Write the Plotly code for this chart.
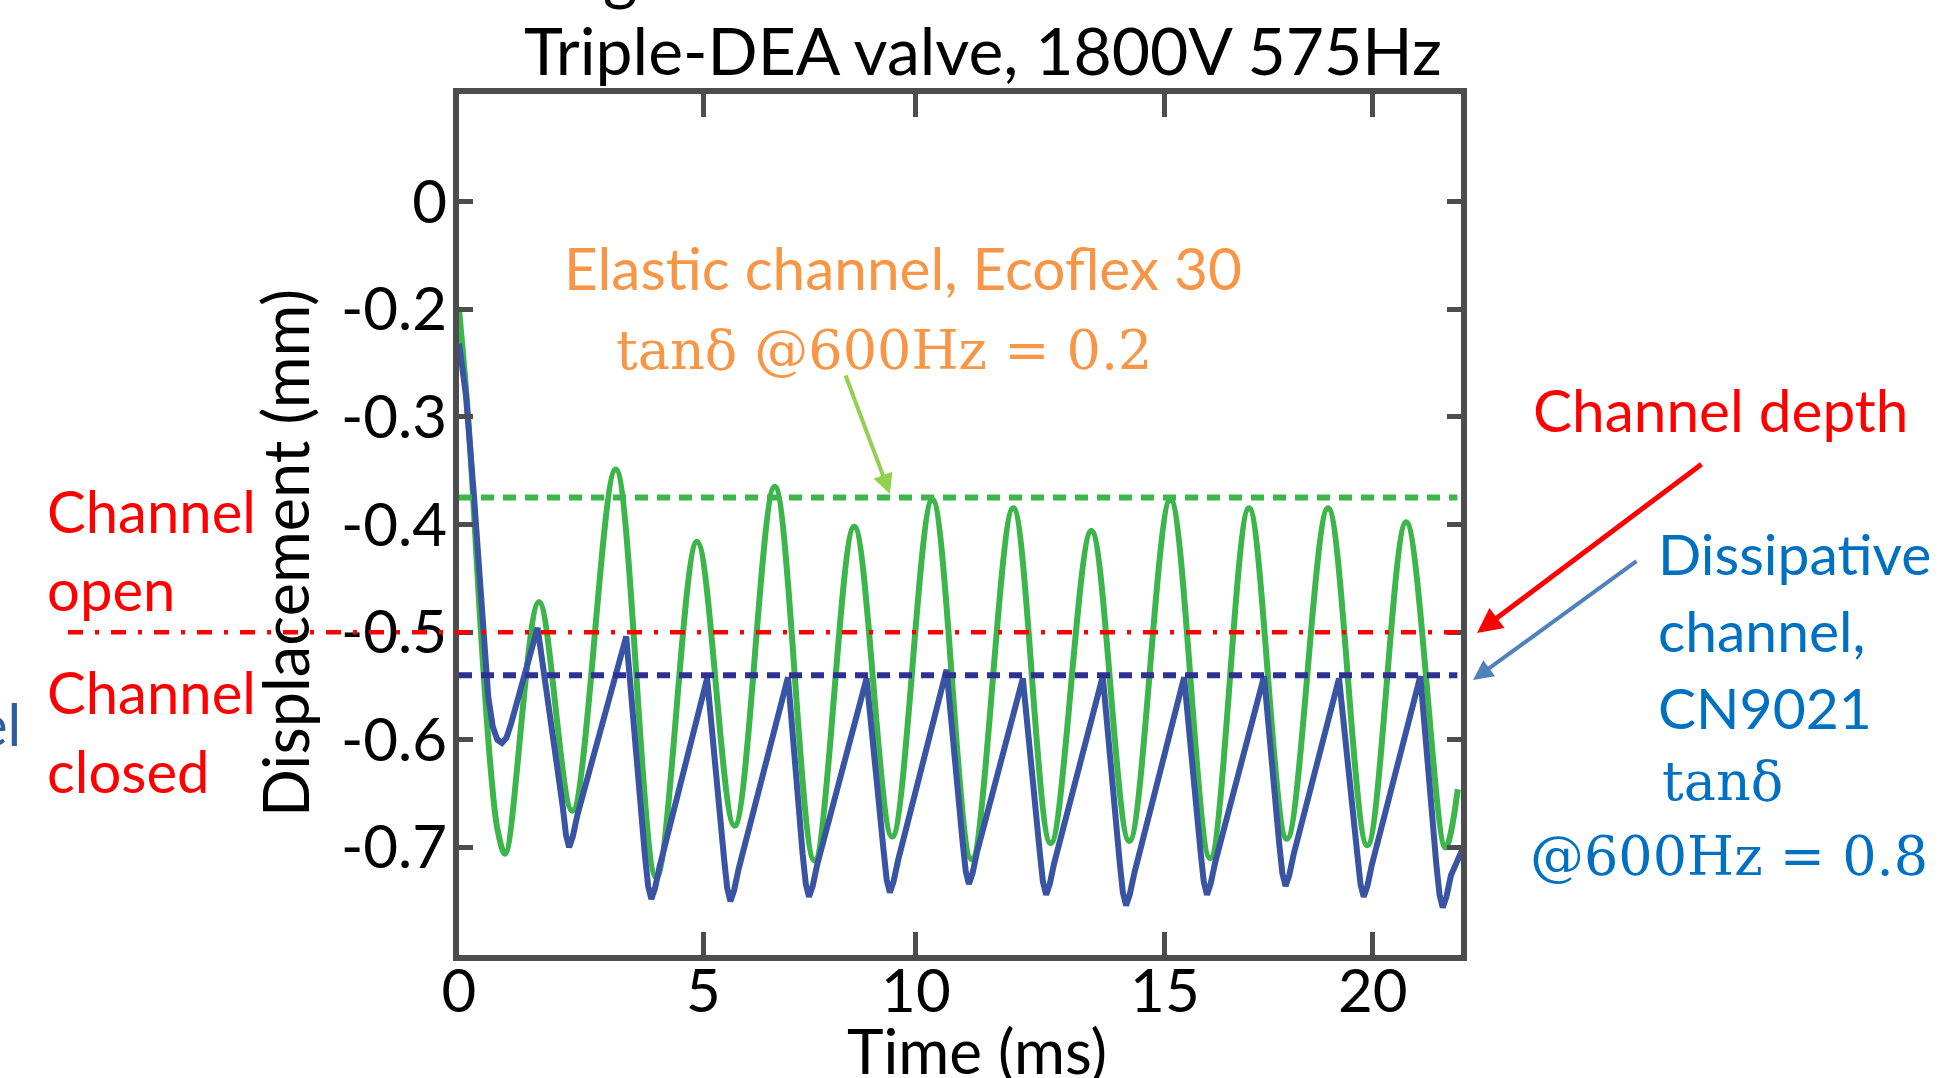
import plotly.graph_objects as go

# ---------------- data ----------------
# Elastic channel (Ecoflex 30) displacement, time in ms, displacement in mm
t_elastic = [0.00, 0.20, 0.48, 0.70, 0.85, 1.01, 1.75, 2.48, 3.43, 4.32, 5.21, 6.03,
             6.91, 7.78, 8.65, 9.48, 10.36, 11.22, 12.13, 12.95, 13.84, 14.67, 15.57,
             16.44, 17.29, 18.12, 19.02, 19.88, 20.73, 21.59, 21.86]
d_elastic = [-0.200, -0.300, -0.500, -0.630, -0.685, -0.706, -0.472, -0.666, -0.349, -0.728,
             -0.416, -0.680, -0.365, -0.712, -0.402, -0.690, -0.377, -0.711, -0.385, -0.696,
             -0.406, -0.694, -0.377, -0.710, -0.385, -0.692, -0.385, -0.698, -0.398, -0.700,
             -0.646]

# Dissipative channel (CN9021) displacement
t_dissip = [0.00, 0.15, 0.33, 0.52, 0.64, 0.74, 0.84, 0.94, 1.04, 1.14,
            1.72, 2.27, 2.34, 2.41, 2.49, 2.59,
            3.66, 4.07, 4.14, 4.21, 4.29, 4.39,
            5.43, 5.80, 5.87, 5.94, 6.02, 6.12,
            7.20, 7.52, 7.59, 7.66, 7.74, 7.84,
            8.92, 9.29, 9.36, 9.43, 9.51, 9.61,
            10.67, 11.02, 11.09, 11.16, 11.24, 11.34,
            12.34, 12.71, 12.78, 12.85, 12.93, 13.03,
            14.09, 14.46, 14.53, 14.60, 14.68, 14.78,
            15.87, 16.23, 16.30, 16.37, 16.45, 16.55,
            17.62, 17.95, 18.02, 18.09, 18.17, 18.27,
            19.26, 19.66, 19.73, 19.80, 19.88, 19.98,
            21.04, 21.39, 21.46, 21.53, 21.61, 21.71,
            21.98]
d_dissip = [-0.232, -0.279, -0.375, -0.500, -0.560, -0.588, -0.600, -0.603, -0.598, -0.585,
            -0.496, -0.662, -0.688, -0.700, -0.690, -0.670,
            -0.504, -0.708, -0.736, -0.748, -0.738, -0.718,
            -0.543, -0.710, -0.738, -0.750, -0.740, -0.720,
            -0.542, -0.706, -0.734, -0.746, -0.736, -0.716,
            -0.543, -0.702, -0.730, -0.742, -0.732, -0.712,
            -0.535, -0.694, -0.722, -0.734, -0.724, -0.704,
            -0.543, -0.704, -0.732, -0.744, -0.734, -0.714,
            -0.541, -0.714, -0.742, -0.754, -0.744, -0.724,
            -0.542, -0.704, -0.732, -0.744, -0.734, -0.714,
            -0.541, -0.696, -0.724, -0.736, -0.726, -0.706,
            -0.543, -0.706, -0.734, -0.746, -0.736, -0.716,
            -0.541, -0.716, -0.744, -0.756, -0.746, -0.726,
            -0.700]

level_elastic_peak = -0.375   # green dashed
level_channel_depth = -0.50   # red dash-dot
level_dissip_peak = -0.54     # navy dashed

x_range = [0, 21.93]
y_range = [-0.8, 0.0]
x_tickvals = [0, 5.35, 10, 15.45, 20]
x_ticktext = ["0", "5", "10", "15", "20"]
y_tickvals = [-0.1, -0.2, -0.3, -0.4, -0.5, -0.6, -0.7]
y_ticktext = ["0", "-0.2", "-0.3", "-0.4", "-0.5", "-0.6", "-0.7"]

# ---------------- layout geometry ----------------
W, H = 1951, 1078
L, R, T, B = 459, 1461, 94, 955


def px(X):
    return (X - L) / (R - L)


def py(Y):
    return (B - Y) / (B - T)


SANS = "Lato"
SERIF = "DejaVu Serif"
FRAME = "#4D4D4F"
GREEN = "#3CB54A"
BLUE = "#3A54A4"
NAVY = "#2E3192"
ORANGE = "#F79646"
TXTBLUE = "#0070C0"
RED = "#FF0000"

fig = go.Figure()
fig.add_trace(go.Scatter(x=t_elastic, y=d_elastic, mode="lines",
                         line=dict(color=GREEN, width=6, shape="spline", smoothing=1.0),
                         showlegend=False, hoverinfo="skip"))
fig.add_trace(go.Scatter(x=t_dissip, y=d_dissip, mode="lines",
                         line=dict(color=BLUE, width=6),
                         showlegend=False, hoverinfo="skip"))

shapes = [
    dict(type="line", xref="x", yref="y", x0=0, x1=21.85, y0=level_elastic_peak, y1=level_elastic_peak,
         line=dict(color=GREEN, width=6, dash="13px,9px")),
    dict(type="line", xref="x", yref="y", x0=0, x1=21.85, y0=level_dissip_peak, y1=level_dissip_peak,
         line=dict(color=NAVY, width=6, dash="13px,9px")),
    dict(type="line", xref="paper", yref="y", x0=px(68), x1=px(1458), y0=level_channel_depth,
         y1=level_channel_depth, line=dict(color=RED, width=4.5, dash="15px,12px,4px,12px")),
]

ann = []


def text(s, X, Y, size, color, family=SANS, xanchor="left", angle=0):
    ann.append(dict(text=s, x=px(X), y=py(Y), xref="paper", yref="paper", showarrow=False,
                    xanchor=xanchor, yanchor="middle", textangle=angle,
                    font=dict(family=family, size=size, color=color)))


def arrow(tip, tail, color, width):
    ann.append(dict(text="", x=px(tip[0]), y=py(tip[1]), xref="paper", yref="paper",
                    ax=tail[0] - tip[0], ay=tail[1] - tip[1], axref="pixel", ayref="pixel",
                    showarrow=True, arrowhead=2, arrowsize=1, arrowwidth=width,
                    arrowcolor=color, standoff=0, startstandoff=0))


# title and partial line above it
text("Triple-DEA valve, 1800V 575Hz", 983, 50, 66, "black", xanchor="center")
ann.append(dict(text="g", x=px(620), y=py(14), xref="paper", yref="paper", showarrow=False,
                xanchor="center", yanchor="bottom", font=dict(family=SANS, size=66, color="black")))
# axis titles
text("Time (ms)", 977, 1050, 62, "black", xanchor="center")
text("Displacement (mm)", 284, 553, 63, "black", xanchor="center", angle=-90)

# left-side labels
text("el", 23, 723, 58, "#2E5C9E", xanchor="right")
text("Channel", 45, 510, 58, RED)
text("open", 45, 588, 58, RED)
text("Channel", 45, 691, 58, RED)
text("closed", 45, 770, 58, RED)

# elastic channel label
text("Elastic channel, Ecoflex 30", 903, 267, 58.5, ORANGE, xanchor="center")
text("tanδ @600Hz = 0.2", 884, 350, 54, ORANGE, family=SERIF, xanchor="center")

# right side labels
text("Channel depth", 1531, 409, 58.5, RED)
text("Dissipative", 1656, 553, 57, TXTBLUE)
text("channel,", 1656, 630, 57, TXTBLUE)
text("CN9021", 1656, 707, 57, TXTBLUE)
text("tanδ", 1660, 781, 54, TXTBLUE, family=SERIF)
text("@600Hz = 0.8", 1528, 856, 54, TXTBLUE, family=SERIF)

arrow((890, 494), (845, 374), "#92D050", 4)
arrow((1477, 633), (1703, 463), RED, 5)
arrow((1473, 680), (1638, 560), "#4F81BD", 4)

axis_common = dict(showline=True, linewidth=6, linecolor=FRAME, mirror="ticks", ticks="inside",
                   tickwidth=5, tickcolor=FRAME, showgrid=False, zeroline=False,
                   tickfont=dict(family=SANS, size=60, color="black"))

fig.update_layout(
    width=W, height=H,
    margin=dict(l=L, r=W - R, t=T, b=H - B, autoexpand=False),
    paper_bgcolor="white", plot_bgcolor="white",
    xaxis=dict(range=x_range, tickvals=x_tickvals, ticktext=x_ticktext, ticklen=23,
               ticklabelstandoff=-21, **axis_common),
    yaxis=dict(range=y_range, tickvals=y_tickvals, ticktext=y_ticktext, ticklen=14,
               ticklabelstandoff=-6, **axis_common),
    shapes=shapes, annotations=ann, showlegend=False,
)

fig.write_html("out.html", config={"displayModeBar": False},
               post_script="document.body.style.margin='0px';")
